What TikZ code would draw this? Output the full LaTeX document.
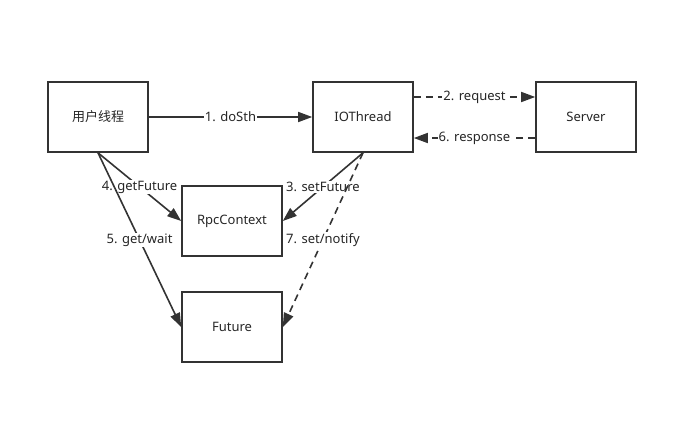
\documentclass[tikz,border=0pt]{standalone}
\usepackage{fontspec}
\setmainfont{Noto Sans}
\newfontfamily\cjk{Noto Sans CJK SC}
\usetikzlibrary{arrows.meta}
\begin{document}
\begin{tikzpicture}[x=1pt,y=-1pt,
  box/.style={draw=black!80,line width=1.6pt,minimum width=100pt,minimum height=70pt,inner sep=0pt,font=\fontsize{13}{15}\selectfont,text=black!85},
  conn/.style={draw=black!80,line width=1.6pt,-{Triangle[length=14pt,width=10pt]}},
  dashline/.style={dash pattern=on 7pt off 5pt},
  lab/.style={fill=white,inner sep=1pt,font=\fontsize{13}{15}\selectfont,text=black!85}]
\useasboundingbox (0,0) rectangle (698,424);
\node[box] (user) at (98,117) {\cjk 用户线程};
\node[box] (io) at (363,117) {IOThread};
\node[box] (srv) at (586,117) {Server};
\node[box] (rpc) at (232,221) {RpcContext};
\node[box] (fut) at (232,327) {Future};
\draw[conn] (user) -- node[lab] {1. doSth} (io);
\draw[conn,dashline] ([yshift=20pt]io.east) -- node[lab] {2. request} ([yshift=20pt]srv.west);
\draw[conn,dashline] ([yshift=-21pt]srv.west) -- node[lab] {6. response} ([yshift=-21pt]io.east);
\draw[conn] (user.south) -- node[lab] {4. getFuture} (rpc.west);
\draw[conn] (io.south) -- node[lab] {3. setFuture} (rpc.east);
\draw[conn] (user.south) -- node[lab] {5. get/wait} (fut.west);
\draw[conn,dashline] (io.south) -- node[lab] {7. set/notify} (fut.east);
\end{tikzpicture}
\end{document}
